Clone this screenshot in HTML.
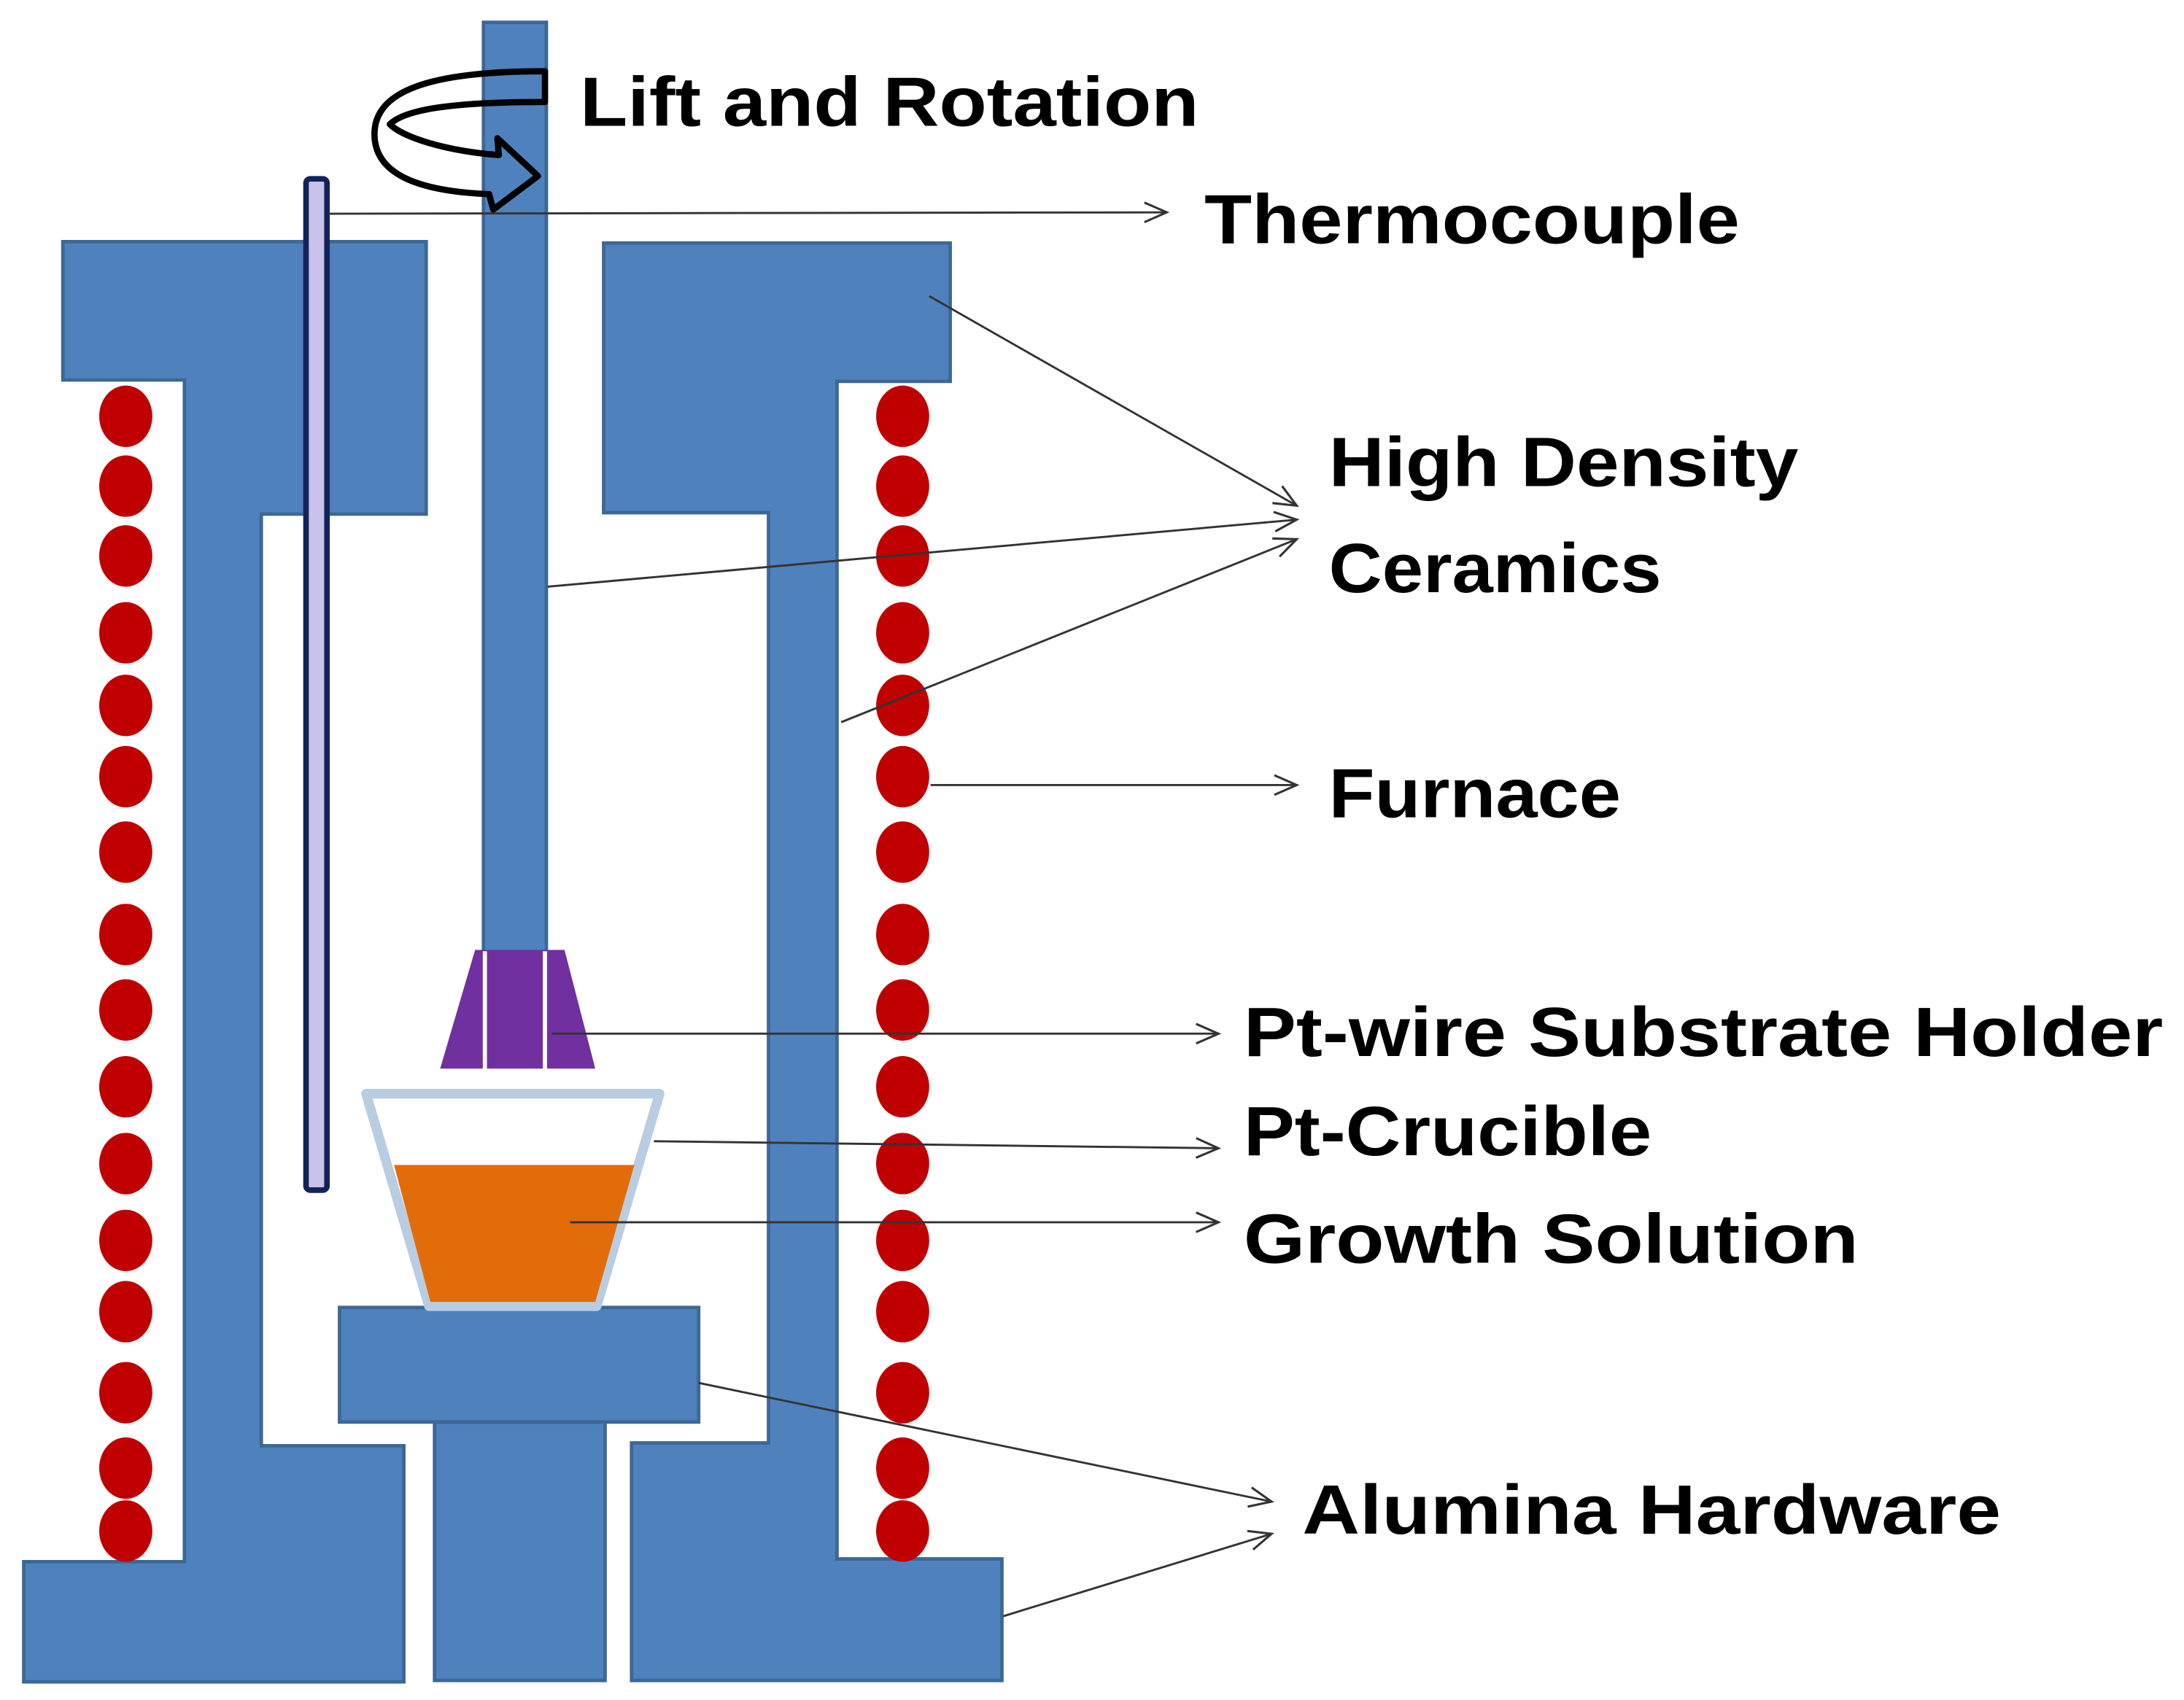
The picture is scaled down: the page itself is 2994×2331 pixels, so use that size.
<!DOCTYPE html>
<html><head><meta charset="utf-8"><style>
html,body{margin:0;padding:0;background:#fff;}
svg{display:block;}
text{font-family:"Liberation Sans",sans-serif;font-weight:bold;fill:#000;}
</style></head><body>
<svg width="2994" height="2331" viewBox="0 0 1563 1217" preserveAspectRatio="none" xmlns="http://www.w3.org/2000/svg">
<defs>
<marker id="ah" viewBox="0 0 20 20" refX="18" refY="10" markerWidth="20" markerHeight="20" markerUnits="userSpaceOnUse" orient="auto">
<path d="M2 3 L18 10 L2 17" fill="none" stroke="#333" stroke-width="1.6"/>
</marker>
</defs>
<g fill="#4f81bd" stroke="#3d6795" stroke-width="2.5">
<path d="M45 173 H305 V368 H187 V1035 H289 V1204 H17 V1118 H132 V272 H45 Z"/>
<path d="M432 174 H680 V273 H599 V1116 H717 V1203 H452 V1033 H550 V367 H432 Z"/>
<rect x="311" y="1018" width="122" height="185"/>
<rect x="243" y="936" width="257" height="82"/>
<rect x="346" y="16" width="45" height="666"/>
</g>
<rect x="219" y="128" width="15" height="724" rx="3" fill="#c9c3ec" stroke="#13235a" stroke-width="4"/>
<g fill="#c00000">
<g id="dl">
<ellipse cx="90" cy="298" rx="19" ry="22"/><ellipse cx="90" cy="348" rx="19" ry="22"/>
<ellipse cx="90" cy="398" rx="19" ry="22"/><ellipse cx="90" cy="453" rx="19" ry="22"/>
<ellipse cx="90" cy="505" rx="19" ry="22"/><ellipse cx="90" cy="556" rx="19" ry="22"/>
<ellipse cx="90" cy="610" rx="19" ry="22"/><ellipse cx="90" cy="669" rx="19" ry="22"/>
<ellipse cx="90" cy="723" rx="19" ry="22"/><ellipse cx="90" cy="778" rx="19" ry="22"/>
<ellipse cx="90" cy="833" rx="19" ry="22"/><ellipse cx="90" cy="888" rx="19" ry="22"/>
<ellipse cx="90" cy="939" rx="19" ry="22"/><ellipse cx="90" cy="997" rx="19" ry="22"/>
<ellipse cx="90" cy="1051" rx="19" ry="22"/><ellipse cx="90" cy="1096" rx="19" ry="22"/>
</g>
<use href="#dl" x="556"/>
</g>
<path d="M262 783 H472 L427 935 H307 Z" fill="#fff" stroke="#b9cde2" stroke-width="7" stroke-linejoin="round"/>
<path d="M282 834 H454 L426 932 H308 Z" fill="#e36c0a"/>
<path d="M340 680 H404 L426 765 H315 Z" fill="#7030a0"/>
<line x1="347" y1="681" x2="347" y2="765" stroke="#fff" stroke-width="3"/>
<line x1="390" y1="681" x2="390" y2="765" stroke="#fff" stroke-width="3"/>
<!-- rotation arrow -->
<path d="M390 51 C310 51 268 64 268 96 C268 126 302 137 350 139 L353 150 L385 126 L356 99 L357 111 C318 108 288 98 279 89 C290 78 325 73 390 73 Z" fill="none" stroke="#000" stroke-width="4.5" stroke-linejoin="round"/>
<g stroke="#333" stroke-width="1.5" fill="none" marker-end="url(#ah)">
<line x1="235" y1="153" x2="835" y2="152"/>
<line x1="665" y1="212" x2="928" y2="362"/>
<line x1="392" y1="420" x2="928" y2="372"/>
<line x1="602" y1="517" x2="928" y2="386"/>
<line x1="666" y1="562" x2="928" y2="562"/>
<line x1="395" y1="740" x2="872" y2="740"/>
<line x1="468" y1="817" x2="872" y2="822"/>
<line x1="408" y1="875" x2="872" y2="875"/>
<line x1="500" y1="990" x2="910" y2="1075"/>
<line x1="718" y1="1157" x2="910" y2="1098"/>
</g>
<text x="415" y="90" font-size="50" textLength="443" lengthAdjust="spacingAndGlyphs">Lift and Rotation</text>
<text x="862" y="174" font-size="50" textLength="383" lengthAdjust="spacingAndGlyphs">Thermocouple</text>
<text x="951" y="348" font-size="50" textLength="336" lengthAdjust="spacingAndGlyphs">High Density</text>
<text x="951" y="424" font-size="50" textLength="238" lengthAdjust="spacingAndGlyphs">Ceramics</text>
<text x="951" y="585" font-size="50" textLength="209" lengthAdjust="spacingAndGlyphs">Furnace</text>
<text x="890" y="756" font-size="50" textLength="658" lengthAdjust="spacingAndGlyphs">Pt-wire Substrate Holder</text>
<text x="890" y="827" font-size="50" textLength="292" lengthAdjust="spacingAndGlyphs">Pt-Crucible</text>
<text x="890" y="904" font-size="50" textLength="440" lengthAdjust="spacingAndGlyphs">Growth Solution</text>
<text x="932" y="1098" font-size="50" textLength="500" lengthAdjust="spacingAndGlyphs">Alumina Hardware</text>
</svg>
</body></html>
